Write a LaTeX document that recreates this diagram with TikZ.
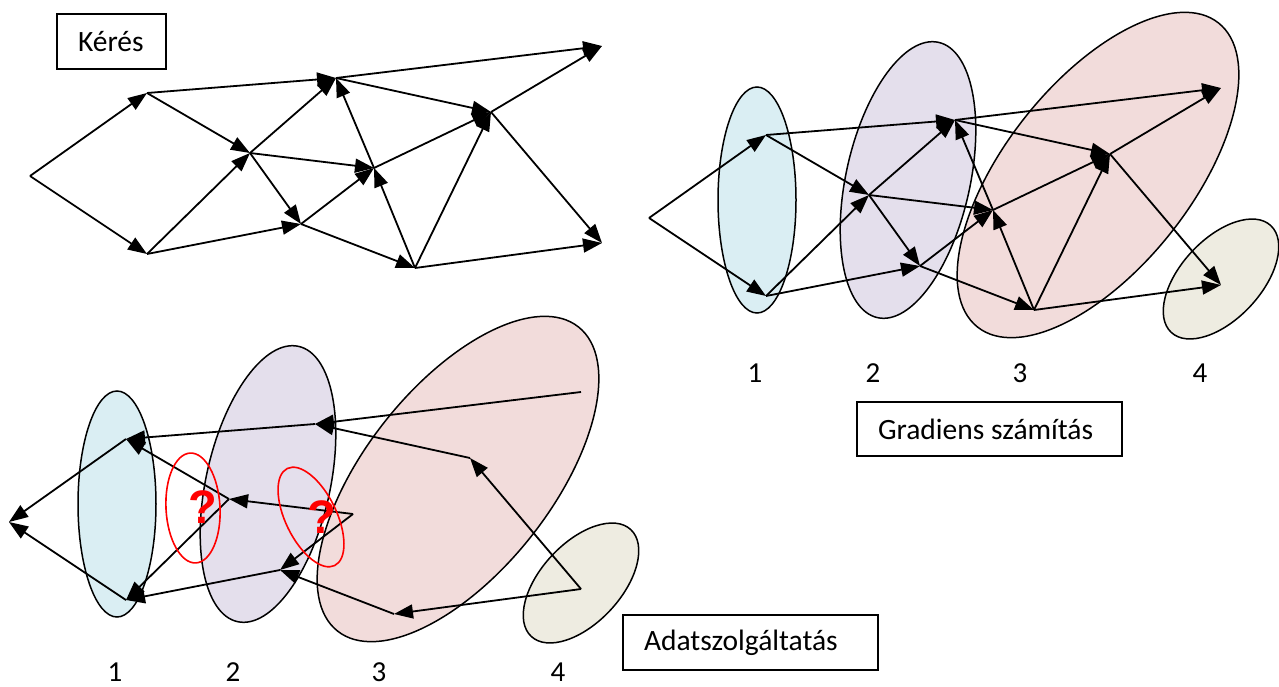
\documentclass[tikz,border=0pt]{standalone}
\usepackage{fontspec}
\setmainfont{Carlito}
\newfontfamily\qfont{Liberation Sans}
\usetikzlibrary{arrows.meta}
\definecolor{eblue}{HTML}{DAEEF3}
\definecolor{epurple}{HTML}{E4DFEC}
\definecolor{epink}{HTML}{F2DCDB}
\definecolor{ebeige}{HTML}{EEECE1}
\definecolor{qred}{HTML}{FF0000}
\tikzset{
  arr/.style={-{Triangle[length=19pt,width=14pt]}, line width=1.8pt, line join=round},
  ell/.style={draw=black, line width=1.5pt},
  redell/.style={draw=qred, line width=1.6pt},
  lbox/.style={draw=black, line width=1.3pt, inner xsep=21pt, inner ysep=0pt, align=flush left,
    font=\fontsize{29.5}{33}\selectfont},
  num/.style={inner sep=0pt, font=\fontsize{29}{33}\selectfont},
  qmark/.style={inner sep=0pt, text=qred, font=\qfont\bfseries\fontsize{47}{50}\selectfont}
}
\newcommand\mkgraph[1]{%
  \coordinate (#1a0) at (30,176);
  \coordinate (#1a1) at (147,93);
  \coordinate (#1a2) at (147,254);
  \coordinate (#1b1) at (250,153);
  \coordinate (#1b2) at (301,224);
  \coordinate (#1c1) at (336,78);
  \coordinate (#1c2) at (374,168);
  \coordinate (#1c3) at (415,268);
  \coordinate (#1d1) at (491,112);
  \coordinate (#1e1) at (602,46);
  \coordinate (#1e2) at (602,243);
}
\newcommand\fwdedges[1]{%
  \foreach \ea/\eb in {a0/a1,a0/a2,a1/c1,a1/b1,a2/b1,a2/b2,b1/c1,b1/c2,b1/b2,b2/c2,b2/c3,c2/c1,c3/c2,c1/d1,c2/d1,c3/d1,c1/e1,d1/e1,d1/e2,c3/e2}
    {\draw[arr] (#1\ea) -- (#1\eb);}
}
\newcommand\layers{%
  \draw[ell, fill=eblue] (757,200) ellipse [x radius=39, y radius=113];
  \begin{scope}[shift={(908,180)}, rotate=-12.5]
    \draw[ell, fill=epurple] (0,0) ellipse [x radius=62, y radius=141];
  \end{scope}
  \begin{scope}[shift={(1098,175)}, rotate=-38.4]
    \draw[ell, fill=epink] (0,0) ellipse [x radius=93, y radius=194];
  \end{scope}
  \begin{scope}[shift={(1221,279)}, rotate=-43]
    \draw[ell, fill=ebeige] (0,0) ellipse [x radius=40, y radius=73];
  \end{scope}
}
\begin{document}
\begin{tikzpicture}[x=1pt, y=-1pt]
\useasboundingbox (0,0) rectangle (1279,687);
\fill[white] (0,0) rectangle (1279,687);

% ---------- top left: request ----------
\node[lbox, text width=67pt, minimum height=55pt] (keres) at (111.5,41.5) {Kérés};
\mkgraph{L}
\fwdedges{L}

% ---------- top right: gradient computation ----------
\layers
\begin{scope}[shift={(619,42)}]
  \mkgraph{R}
\end{scope}
\fwdedges{R}
\node[num] (r1) at (755,373) {1};
\node[num] (r2) at (873,373) {2};
\node[num] (r3) at (1020,373) {3};
\node[num] (r4) at (1200,373) {4};
\node[lbox, text width=223pt, minimum height=54pt] (grad) at (989.5,429) {Gradiens számítás};

% ---------- bottom left: data service ----------
\begin{scope}[shift={(-640,304)}]
  \layers
\end{scope}
\begin{scope}[shift={(-21,346)}]
  \mkgraph{B}
\end{scope}
\foreach \ea/\eb in {e1/c1,c1/a1,d1/c1,e2/d1,e2/c3,c3/b2,b2/a2,a1/a0,a2/a0,b1/a1,b1/a2,c2/b1,c2/b2}
  {\draw[arr] (B\ea) -- (B\eb);}
\begin{scope}[shift={(193,508)}, rotate=3]
  \draw[redell] (0,0) ellipse [x radius=27, y radius=55];
\end{scope}
\begin{scope}[shift={(311,517)}, rotate=26]
  \draw[redell] (0,0) ellipse [x radius=25.5, y radius=54];
\end{scope}
\node[qmark] (q1) at (203,507) {?};
\node[qmark] (q2) at (322,517) {?};
\node[num] (b1n) at (115,672) {1};
\node[num] (b2n) at (233,672) {2};
\node[num] (b3n) at (379,672) {3};
\node[num] (b4n) at (558,672) {4};
\node[lbox, text width=213pt, minimum height=55pt] (adat) at (750.5,642.5) {Adatszolgáltatás};
\end{tikzpicture}
\end{document}
